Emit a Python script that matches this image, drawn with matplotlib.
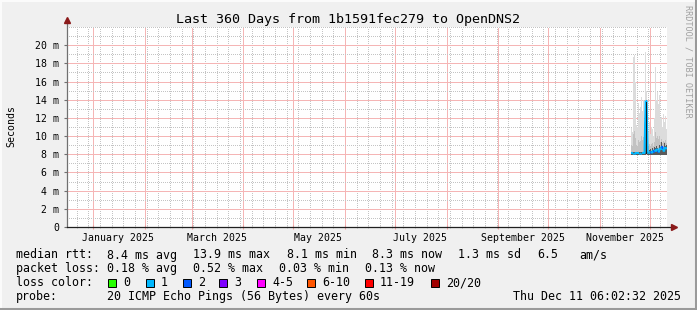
import numpy as np
import pandas as pd
import matplotlib
matplotlib.use('Agg')
import matplotlib.pyplot as plt
import matplotlib.dates as mdates
import matplotlib.transforms as mtrans
from matplotlib.collections import LineCollection
from matplotlib.patches import Rectangle
from matplotlib.lines import Line2D

W, H = 697, 310
MONO = 'DejaVu Sans Mono'

# time window of the graph
t_start = pd.Timestamp('2024-12-16 06:02:32')
t_end = pd.Timestamp('2025-12-11 06:02:32')

# consolidated samples (only the last ~3 weeks have data)
times = pd.date_range('2025-11-19 20:00', '2025-12-11 06:00', periods=36)
median = [8.1, 8.1, 8.1, 8.0, 8.1, 8.1, 8.1, 8.1, 8.1, 8.0, 8.1, 8.1,
          8.1, 8.1, 13.9, 13.9, 8.2, 8.1, 8.2, 8.3, 8.1, 8.4, 8.2, 8.5,
          8.3, 8.6, 8.4, 8.2, 8.7, 8.5, 8.9, 8.6, 8.3, 8.8, 8.6, 8.7]
loss = [1, 1, 1, 1, 1, 1, 1, 1, 1, 1, 1, 1,
        1, 1, 1, 1, 1, 1, 1, 2, 1, 1, 2, 1,
        1, 1, 2, 1, 1, 1, 2, 1, 1, 1, 1, 1]
smoke_min = [7.9, 7.9, 7.9, 7.9, 7.9, 7.9, 7.9, 7.9, 7.9, 7.9, 7.9, 7.9,
             7.9, 7.9, 7.9, 8.0, 7.9, 7.9, 7.9, 7.9, 7.9, 7.9, 7.9, 7.9,
             7.9, 7.9, 7.9, 7.9, 7.9, 7.9, 7.9, 7.9, 7.9, 7.9, 7.9, 7.9]
smoke_max = [10.9, 10.5, 18.7, 18.9, 16.0, 11.2, 11.0, 13.6, 12.5, 13.2, 14.3, 12.8,
             14.0, 11.5, 19.3, 15.0, 12.0, 10.5, 11.5, 10.2, 11.0, 10.8, 10.0, 12.0,
             17.6, 14.0, 14.8, 13.5, 14.5, 12.0, 12.1, 11.0, 12.4, 11.5, 12.2, 10.8]
smoke_mid = [9.0, 8.9, 10.2, 10.6, 9.8, 9.0, 8.9, 9.6, 9.3, 9.5, 10.0, 9.6,
             9.9, 9.2, 12.0, 11.5, 9.3, 8.9, 9.1, 8.9, 9.1, 9.2, 8.9, 9.4,
             10.4, 9.8, 10.0, 9.7, 10.0, 9.4, 9.7, 9.2, 9.5, 9.4, 9.6, 9.2]
smoke_dark = [8.2, 8.2, 8.3, 8.3, 8.2, 8.2, 8.2, 8.3, 8.2, 8.2, 8.3, 8.2,
              8.3, 8.2, 13.8, 13.8, 8.4, 8.3, 8.5, 8.6, 8.4, 8.7, 8.5, 8.8,
              8.7, 8.9, 8.7, 8.5, 9.0, 8.8, 9.3, 8.9, 8.6, 9.2, 8.9, 9.0]

loss_colors = {0: '#26ff00', 1: '#00b8ff', 2: '#0059ff', 3: '#7e00ff',
               4: '#ff00ff', 6: '#ff5500', 11: '#ff0000', 20: '#a10000'}
loss_labels = ['0', '1', '2', '3', '4-5', '6-10', '11-19', '20/20']
label_months = ['2025-01-16', '2025-03-16', '2025-05-16', '2025-07-16',
                '2025-09-16', '2025-11-16']
label_texts = ['January 2025', 'March 2025', 'May 2025', 'July 2025',
               'September 2025', 'November 2025']


def fx(x):
    return x / W


def fy(y):
    return 1 - y / H


fig = plt.figure(figsize=(W / 100, H / 100), dpi=100, facecolor='#f0f0f0')
ax = fig.add_axes([fx(67), fy(227), 600 / W, 200 / H])
ax.set_facecolor('white')

ax.set_xlim(t_start, t_end)
ax.set_ylim(0, 22)

# grid
ax.xaxis.set_major_locator(mdates.MonthLocator(bymonthday=1))
ax.xaxis.set_minor_locator(mdates.WeekdayLocator(byweekday=mdates.SU))
ax.yaxis.set_major_locator(plt.MultipleLocator(2))
ax.yaxis.set_minor_locator(plt.MultipleLocator(1))
ax.grid(which='minor', color='#c4c4c4', linestyle=(0, (1, 2)), linewidth=0.72,
        antialiased=False)
ax.grid(which='major', color='#f5b5b5', linestyle=(0, (1, 1)), linewidth=0.72,
        antialiased=False)
ax.set_axisbelow(True)

# smoke
tn = mdates.date2num(times)
ax.fill_between(tn, smoke_min, smoke_max, step='mid', color='#dcdcdc', lw=0, zorder=2)
ax.fill_between(tn, smoke_min, smoke_mid, step='mid', color='#c2c2c2', lw=0, zorder=2)
ax.fill_between(tn, smoke_min, smoke_dark, step='mid', color='#5a5a5a', lw=0, zorder=2)


# median, coloured by loss
def loss_color(n):
    c = loss_colors[0]
    for k in sorted(loss_colors):
        if n >= k:
            c = loss_colors[k]
    return c


pts = np.column_stack([tn, median])
segs = [pts[i:i + 2] for i in range(len(pts) - 1)]
lc = LineCollection(segs, colors=[loss_color(n) for n in loss[:-1]], linewidths=1.5, zorder=3)
ax.add_collection(lc)

# dense smoke of the spike hides the rising median line
dense = np.array(smoke_dark) > 12
ax.fill_between(tn, smoke_min, smoke_dark, where=dense, step='mid', color='#1a1a1a',
                lw=0, zorder=4)

# axes
for s in ax.spines.values():
    s.set_visible(False)
ax.plot([0, 0], [0, 1.03], transform=ax.transAxes, color='#707070', lw=0.9,
        clip_on=False, zorder=5)
ax.plot([0, 1.008], [0, 0], transform=ax.transAxes, color='#202020', lw=0.9,
        clip_on=False, zorder=5)
ax.plot([0], [1.035], transform=ax.transAxes, marker='^', ms=5, color='#8b1a1a',
        clip_on=False, zorder=6)
ax.plot([1.012], [0], transform=ax.transAxes, marker='>', ms=5, color='#8b1a1a',
        clip_on=False, zorder=6)

ax.tick_params(axis='x', which='major', length=3, direction='inout', color='#f0a0a0',
               labelbottom=False)
ax.tick_params(axis='x', which='minor', length=2, direction='inout', color='#b0b0b0')
ax.tick_params(axis='y', which='major', length=2, direction='out', color='#707070',
               labelsize=7.1, pad=3.6)
ax.tick_params(axis='y', which='minor', length=0)
ax.set_yticks(range(0, 21, 2))
ax.set_yticklabels(['0'] + ['%d m' % v for v in range(2, 21, 2)], family=MONO)

xlab_tr = mtrans.blended_transform_factory(ax.transData, fig.transFigure)
for d, txt in zip(label_months, label_texts):
    ax.text(mdates.date2num(pd.Timestamp(d)), fy(238), txt, transform=xlab_tr,
            ha='center', va='center', family=MONO, fontsize=7.1)

fig.text(fx(11), fy(126), 'Seconds', rotation=90, ha='center', va='center',
         family=MONO, fontsize=7.1)
fig.text(fx(348.5), fy(19), 'Last 360 Days from 1b1591fec279 to OpenDNS2',
         ha='center', va='center', family=MONO, fontsize=9.6)
fig.text(fx(688), fy(5), 'RRDTOOL / TOBI OETIKER', rotation=270, ha='center', va='top',
         family=MONO, fontsize=6.1, color='#a0a0a0')

# legend
fs = 8.4
rows = [
    (255, [(16, 'median rtt:'), (107, '8.4 ms avg'), (193, '13.9 ms max'),
           (287, '8.1 ms min'), (372, '8.3 ms now'), (458, '1.3 ms sd'),
           (537, '6.5'), (579, 'am/s')]),
    (268.5, [(16, 'packet loss:'), (107, '0.18 % avg'), (193, '0.52 % max'),
             (279, '0.03 % min'), (365, '0.13 % now')]),
    (282.5, [(16, 'loss color:')]),
    (296.5, [(16, 'probe:'), (107, '20 ICMP Echo Pings (56 Bytes) every 60s'),
             (513, 'Thu Dec 11 06:02:32 2025')]),
]
for y, items in rows:
    for x, s in items:
        fig.text(fx(x), fy(y), s, ha='left', va='center', family=MONO, fontsize=fs)

box_x = [108, 146, 183, 219, 257, 307, 365, 431]
for bx, key, lab in zip(box_x, sorted(loss_colors), loss_labels):
    fig.patches.append(Rectangle((fx(bx), fy(287)), 8 / W, 8 / H, transform=fig.transFigure,
                                 facecolor=loss_colors[key], edgecolor='black', lw=0.7))
    fig.text(fx(bx + 15), fy(282.5), lab, ha='left', va='center', family=MONO, fontsize=fs)

# 3d frame
fig.lines.append(Line2D([0, 1], [fy(0.5), fy(0.5)], transform=fig.transFigure, color='#fcfcfc', lw=1.4))
fig.lines.append(Line2D([fx(0.5), fx(0.5)], [0, 1], transform=fig.transFigure, color='#fcfcfc', lw=1.4))
fig.lines.append(Line2D([0, 1], [fy(308.5), fy(308.5)], transform=fig.transFigure, color='#9a9a9a', lw=2.2))
fig.lines.append(Line2D([fx(695.5), fx(695.5)], [0, 1], transform=fig.transFigure, color='#9a9a9a', lw=2.2))

fig.savefig('out.png', dpi=100, facecolor=fig.get_facecolor())
